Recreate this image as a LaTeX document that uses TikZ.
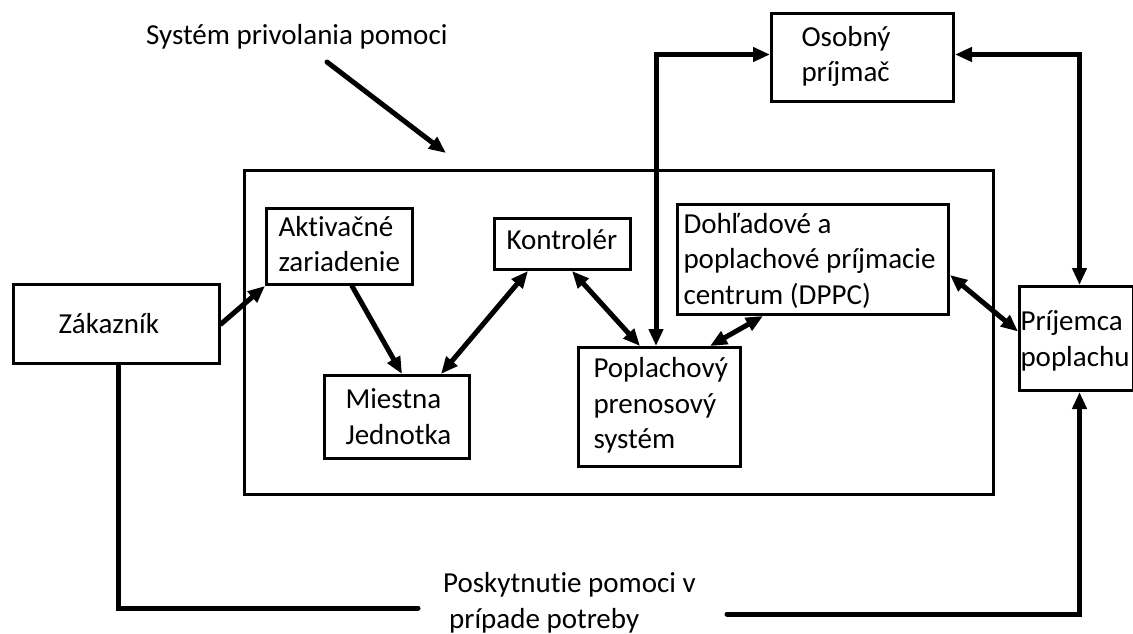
\documentclass[tikz,border=0pt]{standalone}
\usepackage{fontspec}
\setmainfont{Carlito}[Ligatures=CommonOff]
\usetikzlibrary{
  arrows.meta,
  calc,
  positioning}
\tikzset{
  box/.style={%
    draw=black, line width=3pt,
    anchor=north west,
    inner sep=0pt,
    align=flush left,
    % Every box starts its text at the same height, the depth is then
    % set per box so that the first line sits where it should.
    text height=19pt
  },
  arrowX/.style={%
    {Triangle[length=17pt,width=14pt]}-{Triangle[length=17pt,width=14pt]},
    line width=5pt
  },
  arrowR/.style={%
    -{Triangle[length=17pt,width=14pt]},
    line width=5pt
  },
  wire/.style={%
    line width=5pt
  }%
}

\begin{document}
\begin{tikzpicture}[x=1pt,y=-1pt,line cap=round,
    font=\fontsize{29}{35.5}\selectfont]
\useasboundingbox (0,0) rectangle (1133,634);

% Title with its arrow pointing at the system frame.
\node[anchor=base west, inner sep=0pt] (title) at (146,45) {Systém privolania pomoci};
\coordinate (sysTail) at (327,62);
\coordinate (sysTip) at (446,153);

% Outer frame of the system, the boxes inside are placed at coordinates.
\node[box, minimum width=749pt, minimum height=324pt] (system) at (243,169) {};

\node[box, minimum width=206pt, minimum height=79pt, text width=116pt,
  text depth=0pt] (zakaznik) at (12,283) {Zákazník};
\node[box, minimum width=146pt, minimum height=76pt, text width=122pt,
  text depth=40pt] (aktiv) at (265,207) {Aktivačné\\zariadenie};
\node[box, minimum width=136pt, minimum height=51pt, text width=112pt,
  text depth=8pt] (kontrol) at (493,217) {Kontrolér};
\node[box, minimum width=145pt, minimum height=83pt, text width=103pt,
  text depth=36pt] (miestna) at (323,374) {Miestna\\Jednotka};
\node[box, minimum width=271pt, minimum height=110pt, text width=259pt,
  text depth=72pt] (dppc) at (676,203) {Dohľadové a\\poplachové príjmacie\\centrum (DPPC)};
\node[box, minimum width=162pt, minimum height=119pt, text width=132pt,
  text depth=78pt] (poplach) at (577,346) {Poplachový\\prenosový\\systém};
\node[box, minimum width=182pt, minimum height=88pt, text width=122pt,
  text depth=41pt] (osobny) at (770,12) {Osobný\\príjmač};
\node[box, minimum width=114pt, minimum height=104pt, text width=112pt,
  text depth=35pt] (prijem) at (1018,285) {Príjemca\\poplachu};

% Text at the bottom, the two lines run into it from both sides.
% Its base is the second line.
\node[anchor=base west, inner sep=0pt, align=flush left] (help) at (443,628)
  {Poskytnutie pomoci v\\\hspace*{6pt}prípade potreby};
\coordinate (helpL) at (418,608);
\coordinate (helpR) at (727,614);

\draw[arrowR] (sysTail) -- (sysTip);
\draw[arrowR] (zakaznik.east) -- (aktiv.south west);
\draw[arrowR] ([xshift=87pt]aktiv.south west) -- ([xshift=79pt]miestna.north west);
\draw[arrowX] ([xshift=35pt]kontrol.south west) -- ([xshift=118pt]miestna.north west);
\draw[arrowX] ([xshift=79pt]kontrol.south west) -- ([xshift=63pt]poplach.north west);
\draw[arrowX] ([xshift=87pt]dppc.south west) -- ([xshift=133pt]poplach.north west);
\draw[arrowX] ([yshift=-72pt]dppc.north east) -- ([yshift=7pt]prijem.west);
\draw[arrowX] ([xshift=79pt]poplach.north west) |- ([yshift=3pt]osobny.west);
\draw[arrowX] ([yshift=3pt]osobny.east) -| ([xshift=3pt]prijem.north);
\draw[wire] ([xshift=2pt]zakaznik.south) |- (helpL);
\draw[arrowR] (helpR) -| ([xshift=3pt]prijem.south);

\end{tikzpicture}
\end{document}
